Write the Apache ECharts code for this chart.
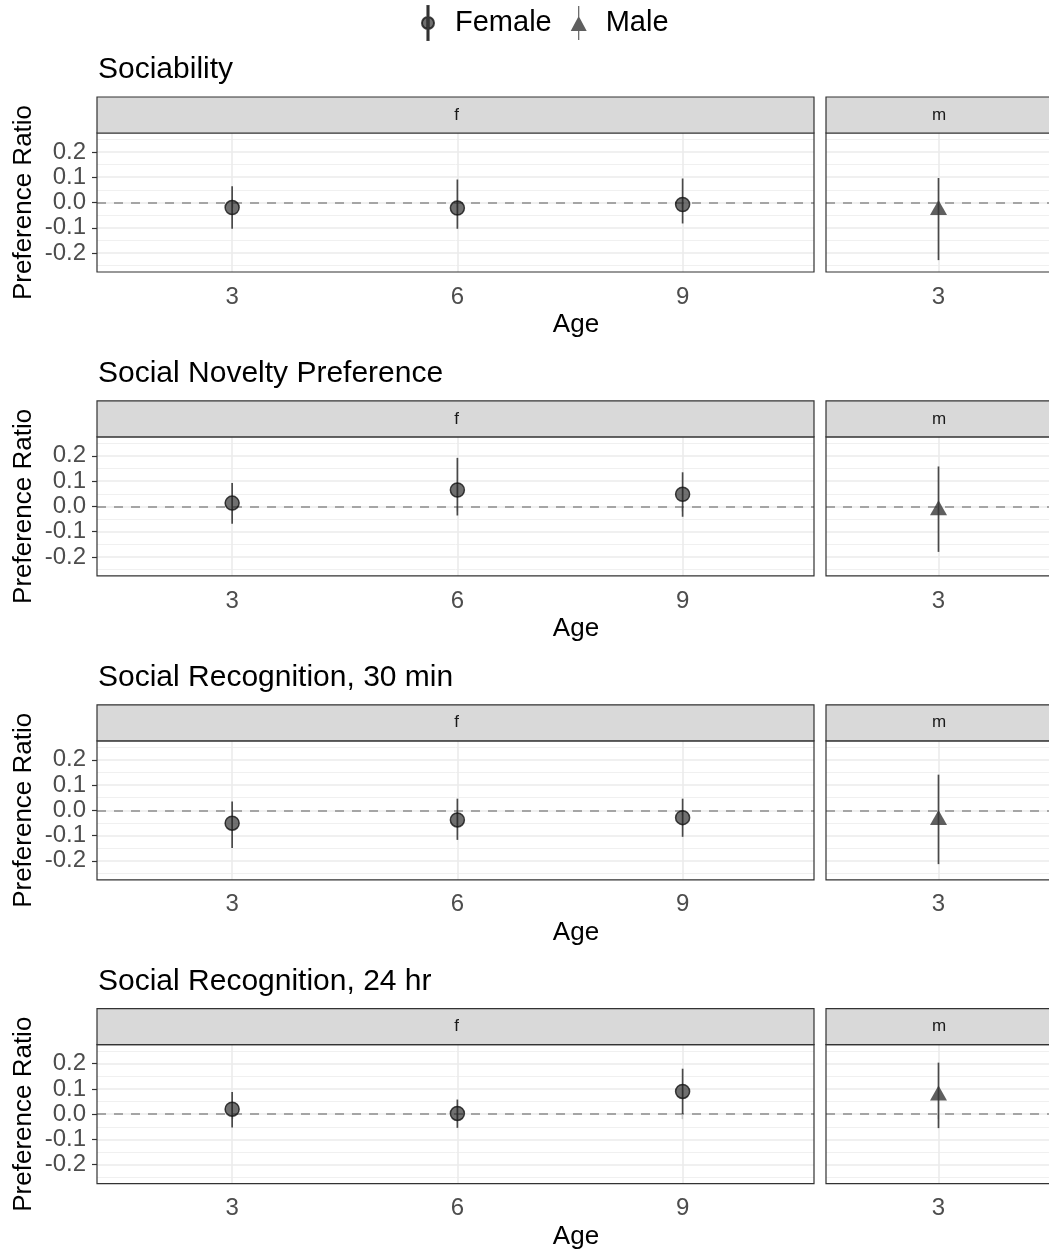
<!DOCTYPE html>
<html><head><meta charset="utf-8">
<script src="https://cdn.jsdelivr.net/npm/echarts@6/dist/echarts.min.js"></script>
<style>html,body{margin:0;padding:0;background:#fff}#c{width:1049px;height:1253px}</style>
</head><body><div id="c"></div>
<script>
// ---------- DATA ----------
const rowTitles = ['Sociability', 'Social Novelty Preference', 'Social Recognition, 30 min', 'Social Recognition, 24 hr'];
const femaleAges = [3, 6, 9];
const maleAges = [3];
const femaleMean = [
  [-0.020, -0.022, -0.008],
  [0.013, 0.065, 0.048],
  [-0.051, -0.038, -0.029],
  [0.020, 0.003, 0.090]
];
const femaleLow = [
  [-0.104, -0.104, -0.083],
  [-0.069, -0.036, -0.041],
  [-0.149, -0.117, -0.105],
  [-0.053, -0.054, 0.001]
];
const femaleHigh = [
  [0.064, 0.091, 0.095],
  [0.093, 0.192, 0.135],
  [0.035, 0.046, 0.046],
  [0.088, 0.058, 0.180]
];
const maleMean = [-0.020, -0.005, -0.028, 0.084];
const maleLow = [-0.228, -0.180, -0.213, -0.055];
const maleHigh = [0.097, 0.158, 0.141, 0.204];
const yTicks = [-0.2, -0.1, 0.0, 0.1, 0.2];
const yMinorTicks = [-0.25, -0.15, -0.05, 0.05, 0.15, 0.25];
const facetLabels = ['f', 'm'];
const legendNames = ['Female', 'Male'];

// ---------- LAYOUT ----------
const FONT = "'Liberation Sans', Arial, Helvetica, sans-serif";
const ROW_TOP0 = 133, ROW_STEP = 303.9, PANEL_H = 139, STRIP_H = 36;
const F_LEFT = 97, F_RIGHT = 814, M_LEFT = 826, M_RIGHT = 1060;

const chart = echarts.init(document.getElementById('c'), null, {renderer: 'canvas'});

const femaleIcon = 'path://M5.4,0H6.6V34H5.4Z M0,17A6,6 0 1,0 12,17A6,6 0 1,0 0,17Z';
const maleIcon = 'path://M7.4,0H8.6V34H7.4Z M0,25L8,10L16,25Z';

const option = {
  animation: false,
  textStyle: {fontFamily: FONT},
  legend: {
    left: 416, top: 0, orient: 'horizontal',
    itemWidth: 44, itemHeight: 34, itemGap: 19,
    selectedMode: false,
    textStyle: {fontSize: 29, color: '#000', fontFamily: FONT},
    data: [{name: legendNames[0], icon: femaleIcon}, {name: legendNames[1], icon: maleIcon}]
  },
  grid: [], xAxis: [], yAxis: [], series: [], graphic: []
};

function gridLineSeries(gi, ages) {
  const data = [];
  yMinorTicks.forEach(v => data.push({yAxis: v, lineStyle: {color: '#f0f0f0', width: 1, type: 'solid'}}));
  yTicks.forEach(v => data.push({yAxis: v, lineStyle: {color: '#ebebeb', width: 1.6, type: 'solid'}}));
  ages.forEach(v => data.push({xAxis: v, lineStyle: {color: '#ebebeb', width: 1.6, type: 'solid'}}));
  data.push({yAxis: 0, lineStyle: {color: '#a5a5a5', width: 1.9, type: [9, 8]}});
  return {
    type: 'line', xAxisIndex: gi, yAxisIndex: gi, data: [], silent: true, z: 1,
    markLine: {z: 1, silent: true, symbol: ['none', 'none'], label: {show: false}, emphasis: {disabled: true}, animation: false, data}
  };
}

function errorSeries(gi, rows) {
  return {
    type: 'custom', xAxisIndex: gi, yAxisIndex: gi, z: 3, silent: true,
    encode: {x: 0, y: [1, 2]},
    data: rows,
    renderItem: function (params, api) {
      const p1 = api.coord([api.value(0), api.value(1)]);
      const p2 = api.coord([api.value(0), api.value(2)]);
      return {type: 'line', shape: {x1: p1[0], y1: p1[1], x2: p2[0], y2: p2[1]},
        style: {stroke: 'rgba(45,45,45,0.85)', lineWidth: 1.7}};
    }
  };
}

for (let r = 0; r < 4; r++) {
  const top = ROW_TOP0 + r * ROW_STEP;
  const gf = 2 * r, gm = 2 * r + 1;
  const gcommon = {top, height: PANEL_H, show: true, borderColor: '#333', borderWidth: 1.2, z: 10,
    backgroundColor: 'transparent', containLabel: false, outerBoundsMode: 'none'};
  option.grid.push(Object.assign({left: F_LEFT, width: F_RIGHT - F_LEFT}, gcommon));
  option.grid.push(Object.assign({left: M_LEFT, width: M_RIGHT - M_LEFT}, gcommon));

  const xCommon = (ages) => ({
    type: 'value', axisLine: {show: false}, splitLine: {show: false},
    axisTick: {show: true, customValues: ages, length: 5, lineStyle: {color: '#333', width: 1.2}},
    axisLabel: {customValues: ages, fontSize: 24, color: '#4d4d4d', margin: 13, fontFamily: FONT}
  });
  option.xAxis.push(Object.assign({gridIndex: gf, min: 1.2, max: 10.75}, xCommon(femaleAges)));
  option.xAxis.push(Object.assign({gridIndex: gm, min: 2, max: 4.08}, xCommon(maleAges)));

  option.yAxis.push({
    type: 'value', gridIndex: gf, min: -0.275, max: 0.275,
    axisLine: {show: false}, splitLine: {show: false},
    axisTick: {show: true, customValues: yTicks, length: 5, lineStyle: {color: '#333', width: 1.2}},
    axisLabel: {customValues: yTicks, fontSize: 24, color: '#4d4d4d', margin: 11, fontFamily: FONT,
      formatter: v => (Math.round(v * 10) / 10).toFixed(1)},
    name: 'Preference Ratio', nameLocation: 'middle', nameGap: 60, nameRotate: 90,
    nameMoveOverlap: false,
    nameTextStyle: {fontSize: 26, color: '#000', fontFamily: FONT}
  });
  option.yAxis.push({
    type: 'value', gridIndex: gm, min: -0.275, max: 0.275,
    axisLine: {show: false}, splitLine: {show: false}, axisTick: {show: false}, axisLabel: {show: false}
  });

  option.series.push(gridLineSeries(gf, femaleAges));
  option.series.push(gridLineSeries(gm, maleAges));

  option.series.push(errorSeries(gf, femaleAges.map((a, i) => [a, femaleLow[r][i], femaleHigh[r][i]])));
  option.series.push(errorSeries(gm, maleAges.map((a) => [a, maleLow[r], maleHigh[r]])));

  option.series.push({
    type: 'scatter', name: legendNames[0], xAxisIndex: gf, yAxisIndex: gf, z: 4, silent: true,
    data: femaleAges.map((a, i) => [a, femaleMean[r][i]]),
    symbol: 'circle', symbolSize: 14,
    itemStyle: {color: 'rgba(35,35,35,0.65)', borderColor: 'rgba(20,20,20,0.8)', borderWidth: 1.5, opacity: 1}
  });
  option.series.push({
    type: 'scatter', name: legendNames[1], xAxisIndex: gm, yAxisIndex: gm, z: 4, silent: true,
    data: maleAges.map((a) => [a, maleMean[r]]),
    symbol: 'triangle', symbolSize: [17, 15],
    itemStyle: {color: 'rgba(55,55,55,0.8)', opacity: 1}
  });

  // strips
  option.graphic.push({type: 'rect', z: 10, shape: {x: F_LEFT, y: top - STRIP_H, width: F_RIGHT - F_LEFT, height: STRIP_H},
    style: {fill: '#d9d9d9', stroke: '#333', lineWidth: 1.2}});
  option.graphic.push({type: 'rect', z: 10, shape: {x: M_LEFT, y: top - STRIP_H, width: M_RIGHT - M_LEFT, height: STRIP_H},
    style: {fill: '#d9d9d9', stroke: '#333', lineWidth: 1.2}});
  option.graphic.push({type: 'text', z: 11, x: (F_LEFT + F_RIGHT) / 2 + 1, y: top - STRIP_H / 2,
    style: {text: facetLabels[0], font: '17px ' + FONT, fill: '#1a1a1a', align: 'center', verticalAlign: 'middle', textAlign: 'center', textVerticalAlign: 'middle'}});
  option.graphic.push({type: 'text', z: 11, x: 939, y: top - STRIP_H / 2,
    style: {text: facetLabels[1], font: '17px ' + FONT, fill: '#1a1a1a', align: 'center', verticalAlign: 'middle', textAlign: 'center', textVerticalAlign: 'middle'}});
  // row title
  option.graphic.push({type: 'text', z: 11, x: 98, y: top - 63,
    style: {text: rowTitles[r], font: '30px ' + FONT, fill: '#000', align: 'left', verticalAlign: 'middle', textAlign: 'left', textVerticalAlign: 'middle'}});
  // x title
  option.graphic.push({type: 'text', z: 11, x: 576, y: top + PANEL_H + 53,
    style: {text: 'Age', font: '26px ' + FONT, fill: '#000', align: 'center', verticalAlign: 'middle', textAlign: 'center', textVerticalAlign: 'middle'}});
}

chart.setOption(option);
</script>
</body></html>
